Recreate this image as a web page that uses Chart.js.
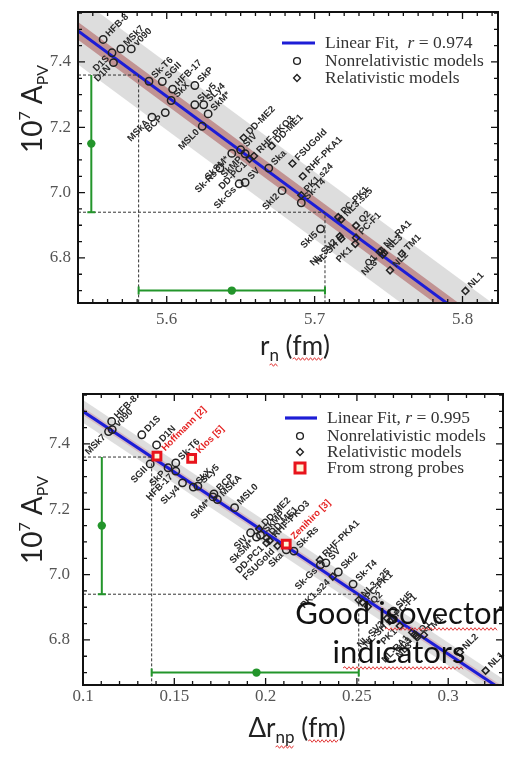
<!DOCTYPE html>
<html>
<head>
<meta charset="utf-8">
<script src="https://cdn.jsdelivr.net/npm/chart.js@4.4.1/dist/chart.umd.min.js"></script>
<style>
  html, body { margin: 0; padding: 0; background: #fff; }
  #wrap { position: relative; width: 512px; height: 758px; overflow: hidden; }
  #c1 { position: absolute; left: 0; top: 0; }
  #c2 { position: absolute; left: 0; top: 380px; }
</style>
</head>
<body>
<div id="wrap">
  <canvas id="c1" width="512" height="370"></canvas>
  <canvas id="c2" width="512" height="378"></canvas>
</div>
<script>
// ---- top panel: A_PV vs r_n ----
const topXRange = [5.540, 5.824];
const topXTicks = [5.6, 5.7, 5.8];
const yRange = [6.662, 7.553];
const yTicks = [6.8, 7.0, 7.2, 7.4];

const topNonrelNames = ['HFB-8','MSk7','v090','D1S','D1N','Sk-T6','SGII','HFB-17','SkX','SkP','SLy5','SLy4','SkM*','MSkA','BCP','MSL0','SIV','SkSM*','SkMP','Ska','Sk-Rs','SV','Sk-Gs','SkI2','Sk-T4','SkI5'];
const topNonrelX = [5.557,5.569,5.576,5.563,5.564,5.588,5.597,5.604,5.603,5.619,5.619,5.625,5.628,5.590,5.599,5.624,5.650,5.644,5.653,5.669,5.636,5.653,5.649,5.678,5.691,5.704];
const topNonrelY = [7.469,7.440,7.440,7.428,7.398,7.341,7.340,7.317,7.282,7.328,7.269,7.269,7.241,7.231,7.245,7.203,7.131,7.120,7.119,7.075,7.075,7.031,7.027,7.006,6.969,6.889];
const topNonrelSide = ['r','r','r','l','l','r','r','r','r','r','r','r','r','l','l','l','r','l','l','r','l','r','l','l','r','l'];

const topRelNames = ['DD-ME2','RHF-PKO3','DD-ME1','FSUGold','RHF-PKA1','DD-PC1','PK1.s24','PC-PK1','NL3.s25','NL-SV2','NL-SH','Q2','PC-F1','PK1','NL-RA1','NL3','Q1','NL3*','TM1','NL2','NL1'];
const topRelX = [5.652,5.659,5.671,5.685,5.692,5.656,5.691,5.716,5.718,5.717,5.718,5.728,5.728,5.7275,5.745,5.747,5.744,5.746,5.759,5.751,5.802];
const topRelY = [7.168,7.112,7.143,7.089,7.050,7.103,6.992,6.925,6.918,6.866,6.859,6.899,6.862,6.843,6.822,6.815,6.818,6.810,6.813,6.762,6.699];
const topRelSide = ['r','r','r','r','r','l','r','r','r','l','l','r','r','l','r','r','l','l','r','r','r'];

// fit line and bands (read at x = 5.50 and 5.85)
const topFitX = [5.50, 5.85];
const topFitY = [7.629, 6.459];
const topGrayHi = [7.732, 6.562];
const topGrayLo = [7.526, 6.356];
const topRedHi = [7.656, 6.486];
const topRedLo = [7.602, 6.432];

// ---- bottom panel: A_PV vs delta r_np ----
const botXRange = [0.100, 0.330];
const botXTicks = [0.1, 0.15, 0.2, 0.25, 0.3];

const botNonrelNames = ['HFB-8','v090','MSk7','D1S','D1N','SGII','Sk-T6','SkP','HFB-17','SLy4','SkX','SLy5','BCP','SkM*','MSkA','MSL0','SIV','SkMP','SkSM*','Ska','Sk-Rs','Sk-Gs','SV','SkI2','Sk-T4','SkI5'];
const botNonrelX = [0.1157,0.1160,0.1140,0.1322,0.1403,0.1368,0.1508,0.1466,0.1508,0.1545,0.1604,0.1629,0.1717,0.1712,0.1736,0.1830,0.1918,0.1972,0.1950,0.2113,0.2155,0.2300,0.2330,0.2398,0.2479,0.2700];
const botNonrelY = [7.469,7.444,7.438,7.428,7.397,7.339,7.342,7.327,7.317,7.281,7.268,7.271,7.247,7.238,7.230,7.205,7.128,7.121,7.115,7.076,7.072,7.030,7.036,7.008,6.971,6.888];
const botNonrelSide = ['r','r','l','r','r','l','r','l','l','l','r','r','r','l','r','r','l','r','l','l','r','l','r','r','r','r'];

const botRelNames = ['DD-ME2','DD-ME1','RHF-PKO3','DD-PC1','FSUGold','RHF-PKA1','PK1.s24','NL3.s25','PC-PK1','Q2','PC-F1','NL-SH','NL-SV2','PK1','NL-RA1','NL3','Q1','NL3*','TM1','NL2','NL1'];
const botRelX = [0.1965,0.2005,0.2022,0.2005,0.2065,0.2297,0.2368,0.2510,0.2530,0.2560,0.2690,0.2680,0.2665,0.2735,0.2803,0.2815,0.2825,0.2830,0.2867,0.3064,0.3205];
const botRelY = [7.140,7.112,7.104,7.097,7.088,7.045,6.994,6.922,6.915,6.902,6.862,6.858,6.866,6.843,6.823,6.816,6.813,6.808,6.815,6.762,6.706];
const botRelSide = ['r','r','r','l','l','r','l','r','r','r','r','l','l','l','l','l','r','l','r','r','r'];

const probeNames = ['Hoffmann [2]','Klos [5]','Zenihiro [3]'];
const probeX = [0.1405, 0.1595, 0.2113];
const probeY = [7.363, 7.356, 7.093];
const probeSide = ['r','r','r'];

const botFitX = [0.09, 0.34];
const botFitY = [7.537, 6.608];
const botGrayHi = [7.572, 6.643];
const botGrayLo = [7.502, 6.573];
const botRedHi = [7.549, 6.620];
const botRedLo = [7.525, 6.596];

// ---- measurement (green) ----
const apvRange = [6.94, 7.36];
const apvMeas = 7.15;
const rnRange = [5.581, 5.707];
const rnMeas = 5.644;
const rnpRange = [0.1376, 0.251];
const rnpMeas = 0.195;

const TICK_FONT = { family: 'Liberation Serif', size: 17 };
const LBL_FONT = 'bold 9.5px "Liberation Sans"';

function pts(xs, ys) { return xs.map((x, i) => ({ x, y: ys[i] })); }

function wavy(ctx, x1, x2, y) {
    ctx.save();
    ctx.strokeStyle = '#e23b3b'; ctx.lineWidth = 1;
    ctx.beginPath(); ctx.moveTo(x1, y);
    let up = true;
    for (let x = x1 + 2; x <= x2; x += 2) { ctx.lineTo(x, y + (up ? -1.3 : 1.3)); up = !up; }
    ctx.stroke(); ctx.restore();
}

// draw a run of text pieces (for sub/superscripts); returns the pieces with x positions
function rich(ctx, parts, x, y, center) {
    let w = 0;
    parts.forEach(p => { ctx.font = p.font; p.w = ctx.measureText(p.t).width; w += p.w; });
    let cx = center ? x - w / 2 : x;
    parts.forEach(p => { ctx.font = p.font; ctx.fillText(p.t, cx, y + (p.dy || 0)); p.x0 = cx; cx += p.w; });
    return parts;
}

const pointLabels = {
    id: 'pointLabels',
    afterDatasetsDraw(chart) {
        const ctx = chart.ctx;
        chart.data.datasets.forEach((ds, i) => {
            if (!ds.names) return;
            const meta = chart.getDatasetMeta(i);
            meta.data.forEach((el, j) => {
                ctx.save();
                ctx.translate(el.x, el.y);
                ctx.rotate(-Math.PI / 4);
                ctx.font = ds.nameFont || LBL_FONT;
                ctx.fillStyle = ds.nameColor || '#2a2a2a';
                ctx.textBaseline = 'middle';
                const gap = ds.nameGap || 6;
                if (ds.sides[j] === 'l') { ctx.textAlign = 'right'; ctx.fillText(ds.names[j], -gap, 0); }
                else { ctx.textAlign = 'left'; ctx.fillText(ds.names[j], gap, 0); }
                ctx.restore();
            });
        });
    }
};

const overlay = {
    id: 'overlay',
    afterDraw(chart, args, o) {
        const { ctx, chartArea: a, scales: { x, y } } = chart;
        ctx.save();

        // green error bars
        ctx.strokeStyle = '#23952b'; ctx.fillStyle = '#23952b'; ctx.lineWidth = 2;
        const vx = x.getPixelForValue(o.err.vx);
        const vTop = y.getPixelForValue(apvRange[1]), vBot = y.getPixelForValue(apvRange[0]);
        ctx.beginPath();
        ctx.moveTo(vx, vTop); ctx.lineTo(vx, vBot);
        ctx.moveTo(vx - 4, vBot); ctx.lineTo(vx + 4, vBot);
        ctx.stroke();
        ctx.beginPath(); ctx.arc(vx, y.getPixelForValue(apvMeas), 4.2, 0, Math.PI * 2); ctx.fill();
        const hy = y.getPixelForValue(o.err.hy);
        const hL = x.getPixelForValue(o.err.range[0]), hR = x.getPixelForValue(o.err.range[1]);
        ctx.beginPath();
        ctx.moveTo(hL, hy); ctx.lineTo(hR, hy);
        ctx.moveTo(hL, hy - 4); ctx.lineTo(hL, hy + 4);
        ctx.moveTo(hR, hy - 4); ctx.lineTo(hR, hy + 4);
        ctx.stroke();
        ctx.beginPath(); ctx.arc(x.getPixelForValue(o.err.meas), hy, 4.2, 0, Math.PI * 2); ctx.fill();

        // inward ticks on all four sides
        ctx.strokeStyle = '#111'; ctx.lineWidth = 1.3;
        const isMajor = (v, list) => list.some(m => Math.abs(m - v) < 1e-6);
        ctx.beginPath();
        for (let k = Math.ceil(x.min / o.xMinor - 1e-6); k * o.xMinor <= x.max + 1e-9; k++) {
            const v = k * o.xMinor, px = x.getPixelForValue(v);
            const len = isMajor(v, o.xTicks) ? 7 : 4;
            ctx.moveTo(px, a.bottom); ctx.lineTo(px, a.bottom - len);
            ctx.moveTo(px, a.top); ctx.lineTo(px, a.top + len);
        }
        for (let k = Math.ceil(y.min / 0.05 - 1e-6); k * 0.05 <= y.max + 1e-9; k++) {
            const v = k * 0.05, py = y.getPixelForValue(v);
            const len = isMajor(v, yTicks) ? 7 : 4;
            ctx.moveTo(a.left, py); ctx.lineTo(a.left + len, py);
            ctx.moveTo(a.right, py); ctx.lineTo(a.right - len, py);
        }
        ctx.stroke();
        ctx.lineWidth = 2;
        ctx.strokeRect(a.left, a.top, a.right - a.left, a.bottom - a.top);

        // legend
        const L = o.legend;
        ctx.textBaseline = 'middle'; ctx.textAlign = 'left'; ctx.fillStyle = '#333';
        L.rows.forEach((row, i) => {
            const ry = L.y[i];
            ctx.save();
            if (row.kind === 'line') {
                ctx.strokeStyle = '#1d1dd6'; ctx.lineWidth = 3.2;
                ctx.beginPath(); ctx.moveTo(L.lineX[0], ry); ctx.lineTo(L.lineX[1], ry); ctx.stroke();
            } else if (row.kind === 'circle') {
                ctx.strokeStyle = '#222'; ctx.lineWidth = 1.4;
                ctx.beginPath(); ctx.arc(L.markX, ry, 3.4, 0, Math.PI * 2); ctx.stroke();
            } else if (row.kind === 'diamond') {
                ctx.strokeStyle = '#222'; ctx.lineWidth = 1.4;
                ctx.beginPath(); ctx.moveTo(L.markX, ry - 3.4); ctx.lineTo(L.markX + 3.4, ry);
                ctx.lineTo(L.markX, ry + 3.4); ctx.lineTo(L.markX - 3.4, ry); ctx.closePath(); ctx.stroke();
            } else if (row.kind === 'square') {
                ctx.fillStyle = '#fff6d8'; ctx.strokeStyle = '#e8141c'; ctx.lineWidth = 3;
                ctx.fillRect(L.markX - 5, ry - 5, 10, 10); ctx.strokeRect(L.markX - 5, ry - 5, 10, 10);
            }
            ctx.restore();
            ctx.fillStyle = '#333';
            rich(ctx, row.text, L.textX, ry, false);
        });

        // axis titles
        ctx.fillStyle = '#222'; ctx.textBaseline = 'alphabetic';
        ctx.save();
        ctx.translate(o.yTitle[0], o.yTitle[1]);
        ctx.rotate(-Math.PI / 2);
        rich(ctx, [
            { t: '10', font: '28px Lato' },
            { t: '7', font: '16px Lato', dy: -12 },
            { t: ' A', font: '28px Lato' },
            { t: 'PV', font: '16px Lato', dy: 6 }
        ], 0, 0, true);
        ctx.restore();
        const xt = rich(ctx, o.xTitleParts, o.xTitle[0], o.xTitle[1], true);
        o.xWavy.forEach(i => wavy(ctx, xt[i].x0, xt[i].x0 + xt[i].w, o.xTitle[1] + (xt[i].dy ? xt[i].dy + 4 : 4)));

        // free text on the slide
        if (o.note) {
            ctx.fillStyle = '#111'; ctx.font = '31px Lato'; ctx.textAlign = 'center';
            ctx.fillText('Good isovector', o.note.x, o.note.y[0]);
            ctx.fillText('indicators', o.note.x, o.note.y[1]);
            o.note.wavy.forEach(w => wavy(ctx, w[0], w[1], w[2]));
        }
        ctx.restore();
    }
};

function makePanel(id, p) {
    const datasets = [
        { data: pts(p.fitX, p.grayHi), borderWidth: 0, pointRadius: 0, fill: '+1', backgroundColor: p.grayColor, order: 20 },
        { data: pts(p.fitX, p.grayLo), borderWidth: 0, pointRadius: 0, fill: false, order: 20 },
        { data: pts(p.fitX, p.redHi), borderWidth: 0, pointRadius: 0, fill: '+1', backgroundColor: p.redColor, order: 19 },
        { data: pts(p.fitX, p.redLo), borderWidth: 0, pointRadius: 0, fill: false, order: 19 },
        { data: pts(p.fitX, p.fitY), borderColor: '#1d1dd6', borderWidth: 3, pointRadius: 0, fill: false, order: 18 },
        { data: [{ x: p.xRange[0], y: apvRange[1] }, { x: p.range[0], y: apvRange[1] }, { x: p.range[0], y: yRange[0] }],
          borderColor: '#333', borderWidth: 1, borderDash: [3, 2], pointRadius: 0, fill: false, order: 17 },
        { data: [{ x: p.xRange[0], y: apvRange[0] }, { x: p.range[1], y: apvRange[0] }, { x: p.range[1], y: yRange[0] }],
          borderColor: '#333', borderWidth: 1, borderDash: [3, 2], pointRadius: 0, fill: false, order: 17 },
        { data: pts(p.nonrelX, p.nonrelY), showLine: false, pointStyle: 'circle', pointRadius: 3.7,
          borderColor: '#222', borderWidth: 1.5, backgroundColor: 'rgba(255,255,255,0)', order: 3,
          names: p.nonrelNames, sides: p.nonrelSide },
        { data: pts(p.relX, p.relY), showLine: false, pointStyle: 'rectRot', pointRadius: 3.5,
          borderColor: '#222', borderWidth: 1.5, backgroundColor: 'rgba(255,255,255,0)', order: 2,
          names: p.relNames, sides: p.relSide }
    ];
    if (p.probeX) {
        datasets.push({ data: pts(p.probeX, p.probeY), showLine: false, pointStyle: 'rect', pointRadius: 5.5,
            borderColor: '#e8141c', borderWidth: 3, backgroundColor: '#fff6d8', order: 1,
            names: p.probeNames, sides: p.probeSide, nameColor: '#e52424', nameFont: 'bold 9.5px "Liberation Sans"', nameGap: 9 });
    }
    return new Chart(document.getElementById(id), {
        type: 'line',
        data: { datasets },
        options: {
            responsive: false, animation: false, devicePixelRatio: 1,
            layout: { padding: p.pad },
            elements: { line: { tension: 0 } },
            plugins: { legend: { display: false }, tooltip: { enabled: false }, overlay: p.overlay },
            scales: {
                x: {
                    type: 'linear', min: p.xRange[0], max: p.xRange[1],
                    grid: { display: false, drawTicks: false }, border: { display: false },
                    afterBuildTicks: s => { s.ticks = p.xTicks.map(v => ({ value: v })); },
                    afterFit: s => { s.height = p.xAxisH; s.paddingLeft = 0; s.paddingRight = 0; },
                    ticks: { padding: p.xPad, color: '#555', font: TICK_FONT, maxRotation: 0, autoSkip: false,
                             callback: v => String(Math.round(v * 100) / 100) }
                },
                y: {
                    type: 'linear', min: yRange[0], max: yRange[1],
                    grid: { display: false, drawTicks: false }, border: { display: false },
                    afterBuildTicks: s => { s.ticks = yTicks.map(v => ({ value: v })); },
                    afterFit: s => { s.width = p.yAxisW; s.paddingTop = 0; s.paddingBottom = 0; },
                    ticks: { padding: p.yPad, color: '#555', font: TICK_FONT, callback: v => v.toFixed(1) }
                }
            }
        },
        plugins: [pointLabels, overlay]
    });
}

const serif = '17.5px "Liberation Serif"';
const serifIt = 'italic 17.5px "Liberation Serif"';

makePanel('c1', {
    xRange: topXRange, xTicks: topXTicks, range: rnRange,
    fitX: topFitX, fitY: topFitY, grayHi: topGrayHi, grayLo: topGrayLo, redHi: topRedHi, redLo: topRedLo,
    grayColor: 'rgba(200,200,200,0.62)', redColor: 'rgba(170,85,85,0.55)',
    nonrelNames: topNonrelNames, nonrelX: topNonrelX, nonrelY: topNonrelY, nonrelSide: topNonrelSide,
    relNames: topRelNames, relX: topRelX, relY: topRelY, relSide: topRelSide,
    pad: { left: 0, top: 12, right: 14, bottom: 0 }, xAxisH: 67, yAxisW: 78, xPad: 6, yPad: 7,
    overlay: {
        xMinor: 0.01, xTicks: topXTicks,
        err: { vx: 5.549, hy: 6.70, range: rnRange, meas: rnMeas },
        legend: {
            lineX: [282, 315], markX: 297, textX: 325, y: [43, 61, 78],
            rows: [
                { kind: 'line', text: [{ t: 'Linear Fit,  ', font: serif }, { t: 'r', font: serifIt }, { t: ' = 0.974', font: serif }] },
                { kind: 'circle', text: [{ t: 'Nonrelativistic models', font: serif }] },
                { kind: 'diamond', text: [{ t: 'Relativistic models', font: serif }] }
            ]
        },
        yTitle: [42, 109],
        xTitle: [295, 355],
        xTitleParts: [{ t: 'r', font: '26px Lato' }, { t: 'n', font: '17px Lato', dy: 6 }, { t: ' (', font: '26px Lato' }, { t: 'fm', font: '26px Lato' }, { t: ')', font: '26px Lato' }],
        xWavy: [1, 3]
    }
});

makePanel('c2', {
    xRange: botXRange, xTicks: botXTicks, range: rnpRange,
    fitX: botFitX, fitY: botFitY, grayHi: botGrayHi, grayLo: botGrayLo, redHi: botRedHi, redLo: botRedLo,
    grayColor: 'rgba(200,200,200,0.6)', redColor: 'rgba(200,130,150,0.4)',
    nonrelNames: botNonrelNames, nonrelX: botNonrelX, nonrelY: botNonrelY, nonrelSide: botNonrelSide,
    relNames: botRelNames, relX: botRelX, relY: botRelY, relSide: botRelSide,
    probeNames, probeX, probeY, probeSide,
    pad: { left: 0, top: 14, right: 9, bottom: 0 }, xAxisH: 73, yAxisW: 83, xPad: 1, yPad: 13,
    overlay: {
        xMinor: 0.01, xTicks: botXTicks,
        err: { vx: 0.1103, hy: 6.70, range: rnpRange, meas: rnpMeas },
        legend: {
            lineX: [285, 317], markX: 300, textX: 327, y: [38, 56, 72, 88],
            rows: [
                { kind: 'line', text: [{ t: 'Linear Fit, ', font: serif }, { t: 'r', font: serifIt }, { t: ' = 0.995', font: serif }] },
                { kind: 'circle', text: [{ t: 'Nonrelativistic models', font: serif }] },
                { kind: 'diamond', text: [{ t: 'Relativistic models', font: serif }] },
                { kind: 'square', text: [{ t: 'From strong probes', font: serif }] }
            ]
        },
        yTitle: [42, 140],
        xTitle: [297, 357],
        xTitleParts: [{ t: 'Δr', font: '26px Lato' }, { t: 'np', font: '17px Lato', dy: 6 }, { t: ' (', font: '26px Lato' }, { t: 'fm', font: '26px Lato' }, { t: ')', font: '26px Lato' }],
        xWavy: [1, 3],
        note: { x: 399, y: [244, 283], wavy: [[385, 498, 249], [343, 463, 288]] }
    }
});
</script>
</body>
</html>
